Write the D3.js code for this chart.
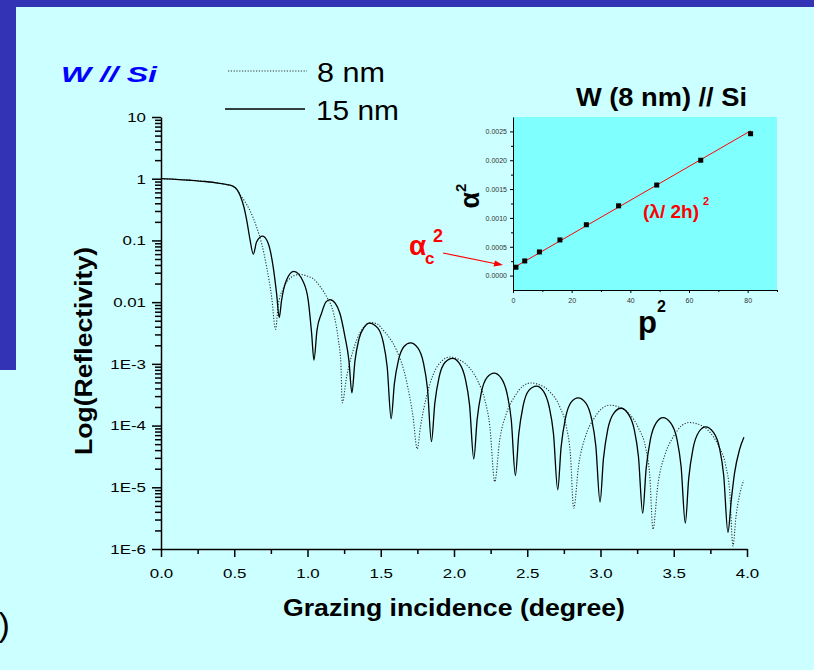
<!doctype html>
<head>
    <meta charset="UTF-8">
    <style>
        body { margin: 0; background: #ccffff; }
        svg text { font-family: 'Liberation Sans', Arial, sans-serif; }
    </style>
</head>

<body>
    <svg id="chart" width="814" height="670"></svg>
    <script src="https://d3js.org/d3.v7.min.js"></script>
    <script>

        // Reflectivity curves (angle in degree, reflectivity)
        var angle15 = [0, 0.1, 0.2, 0.3, 0.4, 0.45, 0.49, 0.52, 0.54, 0.565, 0.585, 0.607, 0.63, 0.653, 0.694, 0.732, 0.766, 0.789, 0.807,
            0.823, 0.857, 0.907, 0.971, 1.005, 1.028, 1.044, 1.065, 1.096, 1.125, 1.153, 1.19, 1.221, 1.255, 1.283, 1.303,
            1.324, 1.351, 1.389, 1.421, 1.48, 1.517, 1.544, 1.571, 1.593, 1.621, 1.659, 1.703, 1.753, 1.791, 1.819, 1.846,
            1.869, 1.898, 1.938, 1.99, 2.037, 2.077, 2.106, 2.135, 2.158, 2.186, 2.226, 2.274, 2.322, 2.362, 2.391, 2.419,
            2.442, 2.471, 2.511, 2.563, 2.61, 2.65, 2.679, 2.708, 2.731, 2.76, 2.8, 2.847, 2.899, 2.939, 2.968, 2.997,
            3.02, 3.049, 3.09, 3.14, 3.189, 3.23, 3.259, 3.288, 3.311, 3.34, 3.381, 3.426, 3.48, 3.521, 3.55, 3.579,
            3.602, 3.631, 3.672, 3.717, 3.771, 3.812, 3.841, 3.87, 3.893, 3.915, 3.949, 3.979];
        var refl15 = [1.0, 0.977, 0.944, 0.902, 0.841, 0.804, 0.759, 0.661, 0.537, 0.355, 0.214, 0.105, 0.060, 0.095, 0.117, 0.089, 0.037, 0.0138, 0.0056,
            0.0107, 0.0229, 0.0316, 0.0214, 0.0107, 0.00316, 0.00115, 0.00355, 0.0066, 0.0100, 0.0110, 0.00955, 0.0066, 0.00282, 0.00112, 3.39e-4,
            1.12e-3, 2.51e-3, 3.98e-3, 4.57e-3, 3.80e-3, 2.24e-3, 8.91e-4, 1.29e-4, 4.79e-4, 1.15e-3, 1.91e-3, 2.19e-3, 1.82e-3, 1.05e-3, 3.98e-4, 5.50e-5,
            2.29e-4, 6.03e-4, 1.05e-3, 1.23e-3, 1.02e-3, 5.75e-4, 2.19e-4, 2.88e-5, 1.26e-4, 3.39e-4, 6.03e-4, 7.08e-4, 5.89e-4, 3.31e-4, 1.23e-4, 1.55e-5,
            7.24e-5, 2.04e-4, 3.72e-4, 4.37e-4, 3.63e-4, 2.00e-4, 7.41e-5, 9.12e-6, 4.47e-5, 1.29e-4, 2.40e-4, 2.82e-4, 2.34e-4, 1.29e-4, 4.68e-5, 5.75e-6,
            2.88e-5, 8.51e-5, 1.58e-4, 1.91e-4, 1.55e-4, 8.71e-5, 3.16e-5, 3.80e-6, 1.95e-5, 5.89e-5, 1.12e-4, 1.35e-4, 1.10e-4, 6.17e-5, 2.19e-5, 2.63e-6,
            1.38e-5, 4.17e-5, 7.94e-5, 9.55e-5, 7.76e-5, 4.37e-5, 1.55e-5, 1.86e-6, 6.31e-6, 1.70e-5, 4.07e-5, 6.46e-5];

        var angle8 = [0, 0.1, 0.2, 0.3, 0.4, 0.45, 0.49, 0.52, 0.54, 0.57, 0.606, 0.652, 0.687, 0.721, 0.755, 0.782,
            0.8, 0.83, 0.87, 0.91, 0.948, 1.0, 1.039, 1.09, 1.13, 1.18, 1.21, 1.228, 1.237,
            1.267, 1.312, 1.357, 1.395, 1.43, 1.48, 1.515, 1.56, 1.606, 1.674, 1.72, 1.749,
            1.771, 1.812, 1.857, 1.914, 1.972, 2.04, 2.108, 2.165, 2.21, 2.245, 2.278,
            2.312, 2.358, 2.414, 2.471, 2.524, 2.585, 2.653, 2.721, 2.767, 2.794, 2.817,
            2.851, 2.898, 2.952, 3.012, 3.063, 3.125, 3.196, 3.261, 3.309, 3.336, 3.358,
            3.392, 3.44, 3.495, 3.555, 3.604, 3.669, 3.74, 3.806, 3.855, 3.882, 3.904,
            3.925, 3.947, 3.977];
        var refl8 = [1.0, 0.977, 0.944, 0.902, 0.841, 0.804, 0.759, 0.661, 0.550, 0.437, 0.309, 0.166, 0.0891, 0.0372, 0.0123, 0.00363,
            0.00891, 0.0158, 0.0229, 0.0269, 0.0282, 0.0263, 0.0240, 0.0174, 0.0123, 0.00631, 0.00251, 0.00100, 2.34e-4,
            6.17e-4, 1.66e-3, 3.16e-3, 4.17e-3, 4.68e-3, 4.37e-3, 3.55e-3, 2.63e-3, 1.70e-3, 5.50e-4, 1.41e-4, 4.17e-5,
            9.55e-5, 2.95e-4, 6.61e-4, 1.10e-3, 1.29e-3, 1.15e-3, 8.51e-4, 5.13e-4, 2.63e-4, 9.55e-5, 1.23e-5,
            5.89e-5, 1.58e-4, 2.95e-4, 4.37e-4, 4.90e-4, 4.57e-4, 3.55e-4, 2.04e-4, 9.55e-5, 3.55e-5, 4.57e-6,
            2.29e-5, 6.76e-5, 1.26e-4, 1.91e-4, 2.14e-4, 2.00e-4, 1.55e-4, 8.91e-5, 4.27e-5, 1.58e-5, 2.09e-6,
            1.12e-5, 3.39e-5, 6.46e-5, 1.00e-4, 1.12e-4, 1.05e-4, 8.13e-5, 4.68e-5, 2.24e-5, 8.51e-6, 1.12e-6,
            3.39e-6, 7.08e-6, 1.29e-5];

        var xTicks = [0, 0.5, 1, 1.5, 2, 2.5, 3, 3.5, 4];
        var xMinorTicks = [0.25, 0.75, 1.25, 1.75, 2.25, 2.75, 3.25, 3.75];
        var yTicks = [1e-6, 1e-5, 1e-4, 1e-3, 0.01, 0.1, 1, 10];
        var yTickLabels = ["1E-6", "1E-5", "1E-4", "1E-3", "0.01", "0.1", "1", "10"];

        // Inset: alpha^2 versus p^2 for W (8 nm) // Si
        var p2 = [1, 4, 9, 16, 25, 36, 49, 64, 81];
        var alpha2 = [0.000145, 0.000254, 0.00041, 0.000618, 0.000882, 0.00121, 0.00157, 0.00200, 0.00246];
        var fitP2 = [0, 81];
        var fitAlpha2 = [0.00013, 0.00251];
        var insetXTicks = [0, 20, 40, 60, 80];
        var insetXMinor = [10, 30, 50, 70, 90];
        var insetYTicks = [0, 0.0005, 0.001, 0.0015, 0.002, 0.0025];
        var insetYMinor = [0.00025, 0.00075, 0.00125, 0.00175, 0.00225];

        var svg = d3.select("#chart");

        // stretch text a bit, the original lettering is wider than Arial
        function stretch(sel, k) {
            sel.each(function () {
                var w = this.getComputedTextLength();
                d3.select(this).attr("textLength", w * k).attr("lengthAdjust", "spacingAndGlyphs");
            });
        }

        // slide background
        svg.append("rect").attr("width", 814).attr("height", 670).attr("fill", "#ccffff");
        svg.append("rect").attr("width", 814).attr("height", 7).attr("fill", "#3333b5");
        svg.append("rect").attr("width", 16).attr("height", 370).attr("fill", "#3333b5");

        // main scales
        var x = d3.scaleLinear().domain([0, 4]).range([161, 747]);
        var y = d3.scaleLog().domain([1e-6, 10]).range([549, 117]);

        // x axis
        var gx = svg.append("g").attr("transform", "translate(0,549)")
            .call(d3.axisBottom(x).tickValues(xTicks).tickFormat(d3.format(".1f"))
                .tickSize(8).tickSizeOuter(0).tickPadding(11));
        var gxm = svg.append("g").attr("transform", "translate(0,549)")
            .call(d3.axisBottom(x).tickValues(xMinorTicks).tickFormat("").tickSize(5).tickSizeOuter(0));
        gxm.select(".domain").remove();

        // y axis
        var gy = svg.append("g").attr("transform", "translate(161,0)")
            .call(d3.axisLeft(y).tickValues(yTicks).tickFormat(function (d, i) { return yTickLabels[i]; })
                .tickSize(9).tickSizeOuter(0).tickPadding(6));
        var minorY = y.ticks().filter(function (d) { return yTicks.indexOf(d) < 0; });
        var gym = svg.append("g").attr("transform", "translate(161,0)")
            .call(d3.axisLeft(y).tickValues(minorY).tickFormat("").tickSize(6).tickSizeOuter(0));
        gym.select(".domain").remove();

        [gx, gxm, gy, gym].forEach(function (g) {
            g.selectAll("path, line").attr("stroke", "#000").attr("stroke-width", 1.5);
        });
        [gx, gy].forEach(function (g) {
            g.selectAll("text").attr("font-size", 13.5).attr("fill", "#000")
                .attr("font-family", "'Liberation Sans', Arial, sans-serif");
            stretch(g.selectAll("text"), 1.25);
        });

        // curves
        var line = d3.line()
            .x(function (d) { return x(d[0]); })
            .y(function (d) { return y(d[1]); })
            .curve(d3.curveMonotoneX);

        svg.append("path").datum(d3.zip(angle8, refl8))
            .attr("d", line).attr("fill", "none")
            .attr("stroke", "#333").attr("stroke-width", 1.1).attr("stroke-dasharray", "1.2,1.6");

        svg.append("path").datum(d3.zip(angle15, refl15))
            .attr("d", line).attr("fill", "none")
            .attr("stroke", "#000").attr("stroke-width", 1.3);

        // axis titles
        var xt = svg.append("text").attr("x", 454).attr("y", 616).attr("text-anchor", "middle")
            .attr("font-size", 24).attr("font-weight", "bold").text("Grazing incidence (degree)");
        xt.attr("textLength", 342).attr("lengthAdjust", "spacingAndGlyphs");

        var yt = svg.append("text").attr("transform", "translate(92,351) rotate(-90)").attr("text-anchor", "middle")
            .attr("font-size", 24).attr("font-weight", "bold").text("Log(Reflectivity)");
        yt.attr("textLength", 208).attr("lengthAdjust", "spacingAndGlyphs");

        // sample title and legend
        svg.append("text").attr("x", 61).attr("y", 82)
            .attr("font-family", "'Comic Sans MS', 'DejaVu Sans', sans-serif")
            .attr("font-size", 22).attr("font-weight", "bold").attr("font-style", "italic")
            .attr("fill", "#0000ff").attr("textLength", 96).attr("lengthAdjust", "spacingAndGlyphs")
            .text("W // Si");

        svg.append("line").attr("x1", 228).attr("x2", 307).attr("y1", 71).attr("y2", 71)
            .attr("stroke", "#333").attr("stroke-width", 1.1).attr("stroke-dasharray", "1.2,1.6");
        svg.append("line").attr("x1", 225).attr("x2", 305).attr("y1", 109).attr("y2", 109)
            .attr("stroke", "#000").attr("stroke-width", 1.3);
        svg.append("text").attr("x", 317).attr("y", 82).attr("font-size", 28)
            .attr("textLength", 68).attr("lengthAdjust", "spacingAndGlyphs").text("8 nm");
        svg.append("text").attr("x", 316).attr("y", 120).attr("font-size", 28)
            .attr("textLength", 83).attr("lengthAdjust", "spacingAndGlyphs").text("15 nm");

        // bracket at the lower left edge of the slide
        svg.append("text").attr("x", -1.5).attr("y", 636)
            .attr("font-size", 34).text(")");

        // ---- inset ----
        var ix = d3.scaleLinear().domain([0, 90]).range([513, 777]);
        var iy = d3.scaleLinear().domain([-0.00025, 0.00275]).range([290, 117]);

        svg.append("rect").attr("x", ix(0)).attr("y", iy(0.00275))
            .attr("width", ix(90) - ix(0)).attr("height", iy(-0.00025) - iy(0.00275))
            .attr("fill", "#80ffff");

        var ixg = svg.append("g").attr("transform", "translate(0,290)")
            .call(d3.axisBottom(ix).tickValues(insetXTicks).tickFormat(d3.format("d"))
                .tickSize(3).tickSizeOuter(0).tickPadding(5));
        var ixm = svg.append("g").attr("transform", "translate(0,290)")
            .call(d3.axisBottom(ix).tickValues(insetXMinor).tickFormat("").tickSize(2).tickSizeOuter(0));
        ixm.select(".domain").remove();
        var iyg = svg.append("g").attr("transform", "translate(513,0)")
            .call(d3.axisLeft(iy).tickValues(insetYTicks).tickFormat(d3.format(".4f"))
                .tickSize(3).tickSizeOuter(0).tickPadding(3));
        var iym = svg.append("g").attr("transform", "translate(513,0)")
            .call(d3.axisLeft(iy).tickValues(insetYMinor).tickFormat("").tickSize(2).tickSizeOuter(0));
        iym.select(".domain").remove();

        [ixg, ixm, iyg, iym].forEach(function (g) {
            g.selectAll("path, line").attr("stroke", "#000").attr("stroke-width", 1);
            g.selectAll("text").attr("font-size", 7).attr("fill", "#333")
                .attr("font-family", "'Liberation Sans', Arial, sans-serif");
        });

        // fit line and measured points
        var fitLine = d3.line()
            .x(function (d) { return ix(d[0]); })
            .y(function (d) { return iy(d[1]); });
        svg.append("path").datum(d3.zip(fitP2, fitAlpha2))
            .attr("d", fitLine).attr("fill", "none").attr("stroke", "#ff0000").attr("stroke-width", 1);

        svg.append("g").selectAll("rect")
            .data(d3.zip(p2, alpha2))
            .enter().append("rect")
            .attr("x", function (d) { return ix(d[0]) - 2.5; })
            .attr("y", function (d) { return iy(d[1]) - 2.5; })
            .attr("width", 5).attr("height", 5)
            .attr("fill", "#000");

        // inset labels
        svg.append("text").attr("x", 576).attr("y", 106).attr("font-size", 25).attr("font-weight", "bold")
            .attr("textLength", 171).attr("lengthAdjust", "spacingAndGlyphs").text("W (8 nm) // Si");

        var al = svg.append("text").attr("transform", "translate(479,196) rotate(-90)").attr("text-anchor", "middle")
            .attr("font-weight", "bold").attr("fill", "#000");
        al.append("tspan").attr("font-size", 27).text("α");
        al.append("tspan").attr("font-size", 15).attr("dy", -13).text("2");

        svg.append("text").attr("x", 638).attr("y", 333).attr("font-size", 31).attr("font-weight", "bold").text("p");
        svg.append("text").attr("x", 657).attr("y", 312).attr("font-size", 16).attr("font-weight", "bold").text("2");

        svg.append("text").attr("x", 643).attr("y", 218).attr("font-size", 19).attr("font-weight", "bold")
            .attr("fill", "#ff0000").attr("textLength", 56).attr("lengthAdjust", "spacing").text("(λ/ 2h)");
        svg.append("text").attr("x", 703).attr("y", 205).attr("font-size", 11).attr("font-weight", "bold")
            .attr("fill", "#ff0000").text("2");

        svg.append("text").attr("x", 409).attr("y", 255).attr("font-size", 28).attr("font-weight", "bold")
            .attr("fill", "#ff0000").text("α");
        svg.append("text").attr("x", 425).attr("y", 264).attr("font-size", 17).attr("font-weight", "bold")
            .attr("fill", "#ff0000").text("c");
        svg.append("text").attr("x", 433).attr("y", 242).attr("font-size", 18).attr("font-weight", "bold")
            .attr("fill", "#ff0000").text("2");

        // arrow pointing at the intercept
        svg.append("line").attr("x1", 443).attr("y1", 253).attr("x2", 497).attr("y2", 264)
            .attr("stroke", "#ff0000").attr("stroke-width", 1.2);
        svg.append("path").attr("d", "M503,265 L495,260.5 L493.5,266.5 Z").attr("fill", "#ff0000");

    </script>
</body>
